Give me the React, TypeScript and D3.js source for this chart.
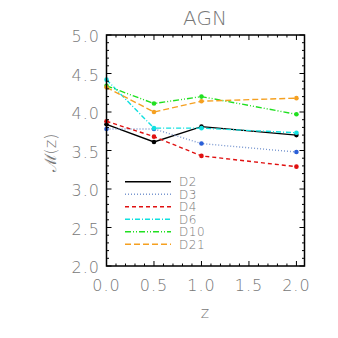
import React from "react";
import * as d3 from "d3";

const zValues = [0.0, 0.5, 1.0, 2.0];
const seriesNames = ["D2", "D3", "D4", "D6", "D10", "D21"];
const d2 = [3.84, 3.61, 3.81, 3.7];
const d3v = [3.78, 3.78, 3.59, 3.48];
const d4 = [3.88, 3.68, 3.43, 3.29];
const d6 = [4.42, 3.79, 3.79, 3.73];
const d10 = [4.34, 4.11, 4.2, 3.97];
const d21 = [4.32, 4.0, 4.14, 4.18];
const xTickLabels = ["0.0", "0.5", "1.0", "1.5", "2.0"];
const yTickLabels = ["2.0", "2.5", "3.0", "3.5", "4.0", "4.5", "5.0"];
const title = "AGN";
const xTitle = "z";
const yTitle = "ℳ(z)";

const seriesData = [d2, d3v, d4, d6, d10, d21];
const colors = ["#000000", "#2a5fd8", "#e01010", "#10e0e0", "#20e020", "#f5a020"];
const lineColors = ["#000000", "#7a98d0", "#e01010", "#10e0e0", "#20e020", "#f5a020"];
const dashes = ["", "1,2", "4,3", "5,2,1,2", "6,2,1,2,1,2", "6,3"];

const W = 338, H = 338;
const left = 106.5, right = 304.5, top = 35, bottom = 266;
const textColor = "#777";
const font = "'DejaVu Sans', sans-serif";

export default function App() {
  const x = d3.scaleLinear().domain([0, 2.085]).range([left, right]);
  const y = d3.scaleLinear().domain([2, 5]).range([bottom, top]);
  const line = d3.line<number>().x((_, i) => x(zValues[i])).y(v => y(v));

  const xMinor = d3.range(0, 2.085, 0.1);
  const yMinor = d3.range(2, 5.001, 0.1);
  const xMajor = xTickLabels.map(Number);
  const yMajor = yTickLabels.map(Number);
  const isMajor = (v: number) => Math.abs(v * 2 - Math.round(v * 2)) < 1e-6;

  return (
    <svg width={W} height={H} style={{ position: "absolute", left: 0, top: 0, background: "#fff" }}>
      <text x={205} y={25} textAnchor="middle" fontFamily={font} fontWeight={200} fontSize={20} fill={textColor}>{title}</text>
      {seriesData.map((s, i) => (
        <g key={i}>
          <path d={line(s) || ""} fill="none" stroke={lineColors[i]} strokeWidth={1.4} strokeDasharray={dashes[i]} />
          {s.map((v, j) => (
            <circle key={j} cx={x(zValues[j])} cy={y(v)} r={2.3} fill={colors[i]} />
          ))}
        </g>
      ))}
      <rect x={left} y={top} width={right - left} height={bottom - top} fill="none" stroke="#000" strokeWidth={1.5} />
      {xMinor.map((v, i) => {
        const len = isMajor(v) ? 5 : 2.5;
        return (
          <g key={i}>
            <line x1={x(v)} x2={x(v)} y1={bottom} y2={bottom - len} stroke="#000" strokeWidth={1} />
            <line x1={x(v)} x2={x(v)} y1={top} y2={top + len} stroke="#000" strokeWidth={1} />
          </g>
        );
      })}
      {yMinor.map((v, i) => {
        const len = isMajor(v) ? 5 : 2.5;
        return (
          <g key={i}>
            <line x1={left} x2={left + len} y1={y(v)} y2={y(v)} stroke="#000" strokeWidth={1} />
            <line x1={right} x2={right - len} y1={y(v)} y2={y(v)} stroke="#000" strokeWidth={1} />
          </g>
        );
      })}
      {xMajor.map((v, i) => (
        <text key={i} x={x(v)} y={291} textAnchor="middle" fontFamily={font} fontWeight={200} fontSize={16} letterSpacing={1} fill={textColor}>{xTickLabels[i]}</text>
      ))}
      {yMajor.map((v, i) => (
        <text key={i} x={100} y={y(v) + 7} textAnchor="end" fontFamily={font} fontWeight={200} fontSize={16} letterSpacing={1} fill={textColor}>{yTickLabels[i]}</text>
      ))}
      <text x={205} y={318} textAnchor="middle" fontFamily={font} fontWeight={200} fontSize={16} fill={textColor}>{xTitle}</text>
      <text transform={`translate(56,153) rotate(-90)`} textAnchor="middle" fontFamily={font} fontWeight={200} fontSize={16} fill={textColor}>{yTitle}</text>
      {seriesNames.map((n, i) => {
        const ly = 181.7 + i * 12.5;
        return (
          <g key={i}>
            <line x1={125} x2={171} y1={ly} y2={ly} stroke={lineColors[i]} strokeWidth={1.4} strokeDasharray={dashes[i]} />
            <text x={179} y={ly + 4.5} fontFamily={font} fontWeight={200} fontSize={12} letterSpacing={0.5} fill={textColor}>{n}</text>
          </g>
        );
      })}
    </svg>
  );
}
